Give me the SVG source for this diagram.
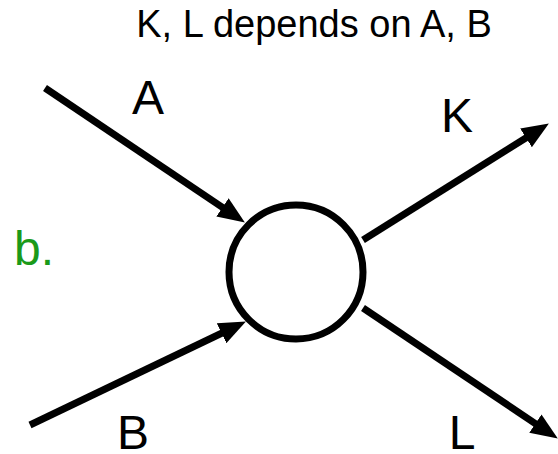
<svg xmlns="http://www.w3.org/2000/svg" width="558" height="454" viewBox="0 0 558 454">
<style>
.t{font-family:"Liberation Sans",Arial,sans-serif;fill:#000}
.lbl{font-size:48px}
.edge{stroke:#000;stroke-width:7;fill:none}
</style>
<defs>
<marker id="ah" markerUnits="userSpaceOnUse" markerWidth="28" markerHeight="24" refX="4" refY="11" orient="auto" viewBox="0 0 28 24">
<path d="M0,0 L27,11 L0,22 z" fill="#000"/>
</marker>
</defs>
<rect width="558" height="454" fill="#fff"/>
<text class="t" x="314" y="37" font-size="38" text-anchor="middle">K, L depends on A, B</text>
<text x="14" y="265" font-family="Liberation Sans,Arial,sans-serif" font-size="48" fill="#1a9a1a">b.</text>
<g id="connectors">
<line class="edge" x1="45" y1="88" x2="225.8" y2="209.7" marker-end="url(#ah)"/>
<line class="edge" x1="30" y1="425" x2="225.2" y2="331.5" marker-end="url(#ah)"/>
<line class="edge" x1="363" y1="240" x2="529.4" y2="135.7" marker-end="url(#ah)"/>
<line class="edge" x1="363" y1="308" x2="538.7" y2="425.8" marker-end="url(#ah)"/>
</g>
<g id="node">
<circle cx="296" cy="272" r="67" fill="#fff" stroke="#000" stroke-width="7"/>
</g>
<g id="labels">
<text class="t lbl" x="148" y="114" text-anchor="middle">A</text>
<text class="t lbl" x="457" y="132" text-anchor="middle">K</text>
<text class="t lbl" x="133" y="449" text-anchor="middle">B</text>
<text class="t lbl" x="462" y="449" text-anchor="middle">L</text>
</g>
</svg>
